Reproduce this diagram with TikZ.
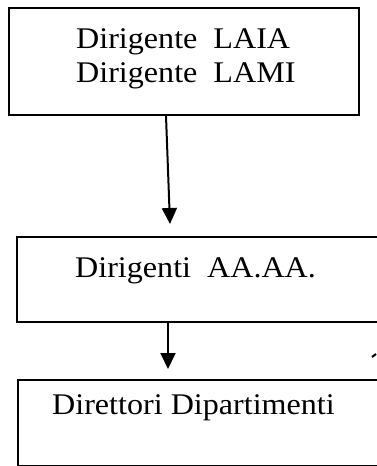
\documentclass[tikz,border=0pt]{standalone}
\usepackage{fontspec}
\setmainfont{Liberation Serif}
\usetikzlibrary{arrows.meta,calc}
\newcommand{\wtxt}[1]{\scalebox{1.07}[1]{#1}}
\begin{document}
\begin{tikzpicture}[x=1pt,y=-1pt,
  boxline/.style={draw=black,line width=2pt,fill=none},
  lbl/.style={anchor=base west,inner sep=0pt,font=\fontsize{30}{34}\selectfont},
  conn/.style={line width=2pt,-{Triangle[width=15pt,length=16pt]}}]
\useasboundingbox (0,0) rectangle (376,466);
\fill[white] (0,0) rectangle (376,466);
% boxes
\node[boxline,minimum width=350pt,minimum height=107pt,inner sep=0pt,anchor=north west] (top) at (8,7) {};
\node[boxline,minimum width=360.8pt,minimum height=85pt,inner sep=0pt,anchor=north west] (mid) at (16,236) {};
\node[boxline,minimum width=360.3pt,minimum height=86pt,inner sep=0pt,anchor=north west] (bot) at (16.5,379) {};
% texts
\node[lbl] (t1) at (76,48.5) {\wtxt{Dirigente\ \ LAIA}};
\node[lbl] (t2) at (76,82.5) {\wtxt{Dirigente\ \ LAMI}};
\node[lbl] (t3) at (75,277) {\wtxt{Dirigenti\ \ AA.AA.}};
\node[lbl] (t4) at (52,414) {\wtxt{Direttori Dipartimenti}};
% connectors
\draw[conn] ($(top.south west)+(158,0)$) coordinate (a1s) -- ($(mid.north west)+(154,-12)$) coordinate (a1e);
\draw[conn] ($(mid.south west)+(152,0)$) coordinate (a2s) -- ($(bot.north west)+(151.5,-10)$) coordinate (a2e);
% stray fragment at the right edge
\coordinate (frag) at (372,357);
\draw[line width=2pt] (frag) -- ++(4,-3);
\end{tikzpicture}
\end{document}
